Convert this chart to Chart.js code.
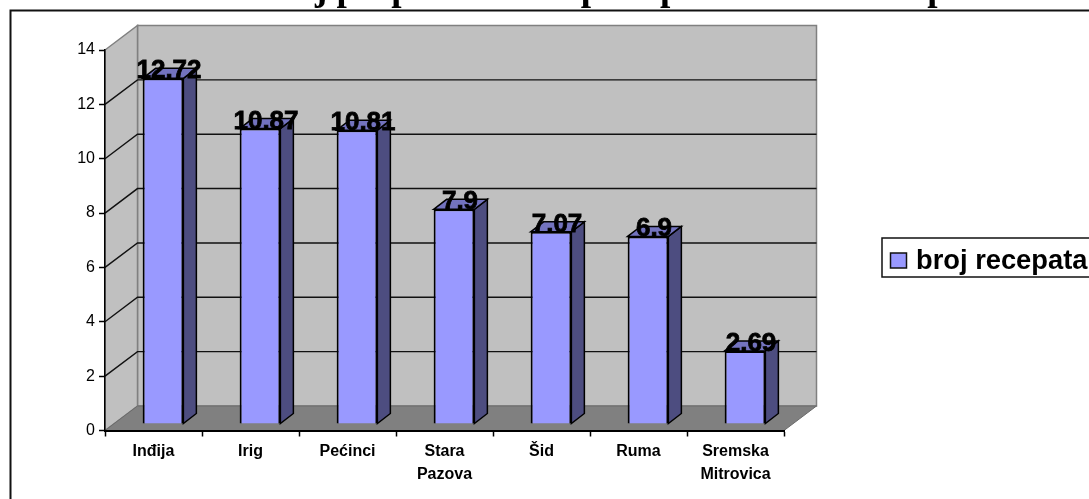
<!DOCTYPE html>
<html>
<head>
<meta charset="utf-8">
<style>
  html, body { margin: 0; padding: 0; background: #fff; overflow: hidden; }
  canvas { display: block; }
</style>
<script src="https://cdn.jsdelivr.net/npm/chart.js@4"></script>
</head>
<body>
<canvas id="chart" width="1089" height="499"></canvas>
<script>
const categories = ['Inđija', 'Irig', 'Pećinci', ['Stara', 'Pazova'], 'Šid', 'Ruma', ['Sremska', 'Mitrovica']];
const values = [12.72, 10.87, 10.81, 7.9, 7.07, 6.9, 2.69];
const seriesName = 'broj recepata';
// title is cut off in the picture, wording guessed from the descenders that show
const titleText = 'Broj propisanih recepata po stanovnicima po';

const sans = '"Liberation Sans", Arial, sans-serif';
const wallDx = 32.5, wallDy = -24.5;   // back wall offset from the front axes
const barDx = 9.5, barDy = -6.5;       // bars stand a bit inside the floor
const depthX = 13, depthY = -10;       // depth of one bar

function poly(ctx, pts, fill, stroke, lw) {
  ctx.beginPath();
  pts.forEach(function(p, i) { i ? ctx.lineTo(p[0], p[1]) : ctx.moveTo(p[0], p[1]); });
  ctx.closePath();
  if (fill) { ctx.fillStyle = fill; ctx.fill(); }
  if (stroke) { ctx.strokeStyle = stroke; ctx.lineWidth = lw; ctx.stroke(); }
}

// frame, title, walls and floor go under the axes
const backdrop = {
  id: 'backdrop',
  beforeDraw: function(chart) {
    const ctx = chart.ctx, a = chart.chartArea, y = chart.scales.y;
    ctx.save();

    ctx.fillStyle = '#fff';
    ctx.fillRect(0, 0, chart.width, chart.height);

    ctx.fillStyle = '#000';
    ctx.font = 'bold 37px "Liberation Serif", serif';
    ctx.textAlign = 'left';
    ctx.textBaseline = 'alphabetic';
    ctx.fillText(titleText, 256, 0);

    ctx.strokeStyle = '#111';
    ctx.lineWidth = 2;
    ctx.beginPath();
    ctx.moveTo(10.5, 499);
    ctx.lineTo(10.5, 10.5);
    ctx.lineTo(1089, 10.5);
    ctx.stroke();

    const x0 = a.left, x1 = a.right, y0 = y.getPixelForValue(0), yTop = y.getPixelForValue(14);
    const bx0 = x0 + wallDx, bx1 = x1 + wallDx, by0 = y0 + wallDy, byTop = yTop + wallDy;

    poly(ctx, [[bx0, by0], [bx1, by0], [bx1, byTop], [bx0, byTop]], '#c0c0c0', '#808080', 1.5);
    poly(ctx, [[x0, y0], [bx0, by0], [bx0, byTop], [x0, yTop]], '#c0c0c0', '#808080', 1.5);
    poly(ctx, [[x0, y0], [x1, y0], [bx1, by0], [bx0, by0]], '#808080', '#6a6a6a', 1);

    ctx.strokeStyle = '#111';
    ctx.lineWidth = 1.4;
    y.ticks.forEach(function(t) {
      if (t.value === 0 || t.value === 14) return;
      const py = y.getPixelForValue(t.value);
      ctx.beginPath();
      ctx.moveTo(x0, py);
      ctx.lineTo(bx0, py + wallDy);
      ctx.lineTo(bx1, py + wallDy);
      ctx.stroke();
    });
    ctx.restore();
  },
  beforeDatasetsDraw: function(chart) {
    chart.ctx.save();
    chart.ctx.translate(barDx, barDy);
  },
  afterDatasetsDraw: function(chart) {
    const ctx = chart.ctx;
    const bars = chart.getDatasetMeta(0).data;

    // side and top faces of every bar, then the values
    bars.forEach(function(b) {
      const l = b.x - b.width / 2, r = b.x + b.width / 2;
      poly(ctx, [[r, b.y], [r + depthX, b.y + depthY], [r + depthX, b.base + depthY], [r, b.base]], '#4d4d80', '#000', 1.5);
      poly(ctx, [[l, b.y], [l + depthX, b.y + depthY], [r + depthX, b.y + depthY], [r, b.y]], '#7373bf', '#000', 1.5);
    });

    ctx.fillStyle = '#000';
    ctx.strokeStyle = '#000';
    ctx.lineWidth = 0.8;
    ctx.font = 'bold 26px ' + sans;
    ctx.textAlign = 'center';
    ctx.textBaseline = 'alphabetic';
    bars.forEach(function(b, i) {
      ctx.fillText(String(values[i]), b.x + 6, b.y);
      ctx.strokeText(String(values[i]), b.x + 6, b.y);
    });
    ctx.restore();

    // legend, runs off the right edge like the picture
    ctx.save();
    ctx.strokeStyle = '#111';
    ctx.lineWidth = 1.5;
    ctx.fillStyle = '#fff';
    ctx.fillRect(882, 238, 215, 39);
    ctx.strokeRect(882, 238, 215, 39);
    ctx.fillStyle = '#9999ff';
    ctx.fillRect(890.5, 253, 16, 15);
    ctx.strokeRect(890.5, 253, 16, 15);
    ctx.fillStyle = '#000';
    ctx.font = 'bold 27.3px ' + sans;
    ctx.textAlign = 'left';
    ctx.textBaseline = 'alphabetic';
    ctx.fillText(seriesName, 916, 269);
    ctx.restore();
  }
};

new Chart(document.getElementById('chart'), {
  type: 'bar',
  data: {
    labels: categories,
    datasets: [{
      label: seriesName,
      data: values,
      backgroundColor: '#9999ff',
      borderColor: '#000',
      borderWidth: 2,
      barPercentage: 0.42,
      categoryPercentage: 1
    }]
  },
  plugins: [backdrop],
  options: {
    responsive: false,
    animation: false,
    layout: { padding: { left: 0, top: 50, right: 305, bottom: 0 } },
    plugins: {
      legend: { display: false },
      title: { display: false },
      tooltip: { enabled: false }
    },
    scales: {
      x: {
        afterFit: function(s) { s.height = 68.5; },
        border: { color: '#000', width: 2 },
        grid: { drawOnChartArea: false, color: '#000', tickLength: 6, tickWidth: 1.5 },
        ticks: {
          color: '#000',
          padding: 3,
          maxRotation: 0,
          autoSkip: false,
          font: { family: sans, size: 16, weight: 'bold', lineHeight: 1.45 }
        }
      },
      y: {
        min: 0,
        max: 14,
        afterFit: function(s) { s.width = 105; },
        border: { color: '#000', width: 1.5 },
        grid: { drawOnChartArea: false, color: '#000', tickLength: 6, tickWidth: 1.5 },
        ticks: {
          stepSize: 2,
          color: '#000',
          padding: 4,
          font: { family: sans, size: 16 }
        }
      }
    }
  }
});
</script>
</body>
</html>
